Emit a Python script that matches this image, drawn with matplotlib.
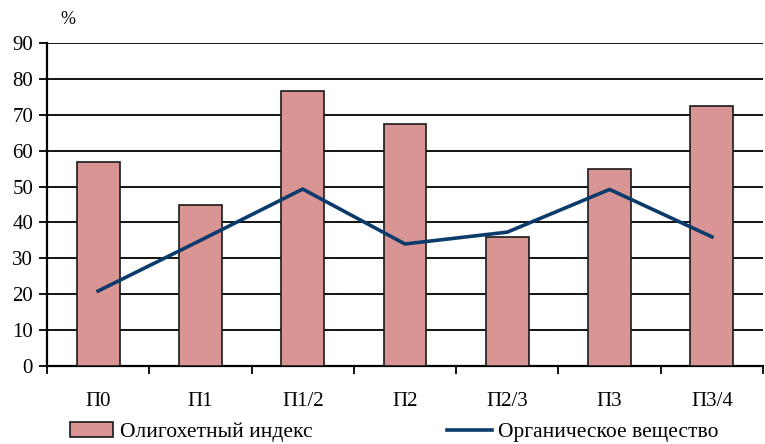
import numpy as np
import matplotlib.pyplot as plt

plt.rcParams['font.family'] = ['Liberation Serif', 'DejaVu Serif']

categories = ['П0', 'П1', 'П1/2', 'П2', 'П2/3', 'П3', 'П3/4']
oligochaete_index = [56.8, 44.8, 76.5, 67.3, 36.0, 55.0, 72.5]
organic_matter = [20.9, 35.0, 49.3, 34.0, 37.3, 49.2, 36.0]

fig = plt.figure(figsize=(7.65, 4.44), dpi=100)
ax = fig.add_axes([47 / 765, 1 - 366 / 444, 716 / 765, 323 / 444])

x = np.arange(len(categories))
ax.bar(x, oligochaete_index, width=0.42, color='#d99594', edgecolor='#1a1a1a',
       linewidth=1.2, zorder=3, label='Олигохетный индекс')
ax.plot(x, organic_matter, color='#0b3a6b', linewidth=2.6, zorder=4,
        label='Органическое вещество')

ax.set_xlim(-0.5, len(categories) - 0.5)
ax.set_ylim(0, 90)
ax.set_yticks(range(0, 91, 10))
ax.yaxis.grid(True, color='black', linewidth=1.3, zorder=0)
ax.set_axisbelow(True)

# category ticks sit on the boundaries, labels in the middle
ax.set_xticks(np.arange(-0.5, len(categories) - 0.4, 1.0))
ax.set_xticklabels([])
ax.set_xticks(x, minor=True)
ax.set_xticklabels(categories, minor=True)
ax.tick_params(axis='x', which='minor', length=0, pad=19, labelsize=15)
ax.tick_params(axis='x', which='major', length=6, width=1.3, direction='out')
ax.tick_params(axis='y', length=6, width=1.3, direction='out', labelsize=15, pad=4)

for side in ['top', 'right']:
    ax.spines[side].set_visible(False)
for side in ['left', 'bottom']:
    ax.spines[side].set_linewidth(1.6)

fig.text(68 / 765, 1 - 20 / 444, '%', fontsize=13, ha='center', va='center')

handles, labels = ax.get_legend_handles_labels()
fig.legend([handles[1]], [labels[1]], loc='center left',
           bbox_to_anchor=(70 / 765, 1 - 432 / 444), frameon=False, fontsize=15.5,
           handlelength=2.0, handletextpad=0.33, borderaxespad=0, borderpad=0)
fig.legend([handles[0]], [labels[0]], loc='center left',
           bbox_to_anchor=(447 / 765, 1 - 432 / 444), frameon=False, fontsize=15.5,
           handlelength=2.1, handletextpad=0.25, borderaxespad=0, borderpad=0)

fig.savefig('out.png', dpi=100)
